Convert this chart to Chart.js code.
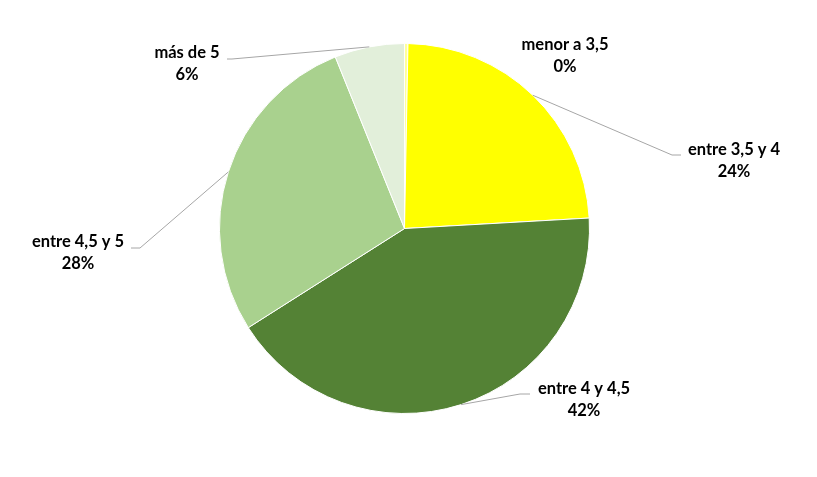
<!DOCTYPE html>
<html>
<head>
<meta charset="utf-8">
<script src="https://cdn.jsdelivr.net/npm/chart.js@4.4.1/dist/chart.umd.min.js"></script>
<style>
  html, body { margin: 0; padding: 0; background: #fff; }
  #wrap { width: 817px; height: 477px; }
</style>
</head>
<body>
<div id="wrap"><canvas id="pieChart" width="817" height="477"></canvas></div>
<script>
// datos (porcentaje de cada rango)
const categorias = ['menor a 3,5', 'entre 3,5 y 4', 'entre 4 y 4,5', 'entre 4,5 y 5', 'más de 5'];
const valores = [0.3, 23.8, 41.9, 27.9, 6.1];
const colores = ['#FFFF99', '#FFFF00', '#548235', '#A9D18E', '#E2EFDA'];

// posición de cada etiqueta y de su línea guía
const posEtiquetas = [
    { x: 565, y: 45, codo: null, fin: null },
    { x: 734, y: 150, codo: [672, 155], fin: [681, 155] },
    { x: 584, y: 389, codo: [520, 394], fin: [530, 394] },
    { x: 78, y: 242, codo: [140, 248], fin: [131, 248] },
    { x: 187, y: 53, codo: [232, 59], fin: [227, 59] },
];

document.addEventListener('DOMContentLoaded', () => {
    const total = valores.reduce((a, b) => a + b, 0);

    // plugin para dibujar etiquetas con líneas guía
    const etiquetasPlugin = {
        id: 'etiquetas',
        afterDraw(chart) {
            const ctx = chart.ctx;
            const arcs = chart.getDatasetMeta(0).data;
            ctx.save();
            arcs.forEach((arc, i) => {
                const p = posEtiquetas[i];
                if (p.codo) {
                    const mid = (arc.startAngle + arc.endAngle) / 2;
                    const ax = arc.x + Math.cos(mid) * arc.outerRadius;
                    const ay = arc.y + Math.sin(mid) * arc.outerRadius;
                    ctx.strokeStyle = '#A6A6A6';
                    ctx.lineWidth = 1;
                    ctx.beginPath();
                    ctx.moveTo(ax, ay);
                    ctx.lineTo(p.codo[0], p.codo[1]);
                    ctx.lineTo(p.fin[0], p.fin[1]);
                    ctx.stroke();
                }
                ctx.fillStyle = '#000';
                ctx.font = 'bold 16.5px Lato, "Open Sans", sans-serif';
                ctx.textAlign = 'center';
                ctx.textBaseline = 'middle';
                ctx.fillText(categorias[i], p.x, p.y);
                ctx.fillText(Math.round(valores[i] / total * 100) + '%', p.x, p.y + 22);
            });
            ctx.restore();
        }
    };

    const ctx = document.getElementById('pieChart').getContext('2d');
    new Chart(ctx, {
        type: 'pie',
        data: {
            labels: categorias,
            datasets: [{
                data: valores,
                backgroundColor: colores,
                borderColor: '#FFFFFF',
                borderWidth: 1,
            }],
        },
        options: {
            responsive: false,
            animation: false,
            layout: { padding: { top: 43, bottom: 63, left: 0, right: 8 } },
            plugins: {
                legend: { display: false },
                tooltip: { enabled: false },
            },
        },
        plugins: [etiquetasPlugin],
    });
});
</script>
</body>
</html>
